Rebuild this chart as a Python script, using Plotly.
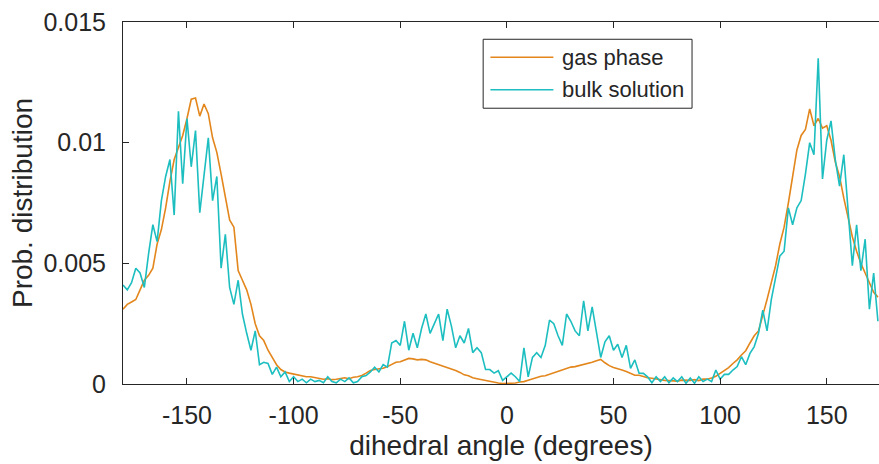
import plotly.graph_objects as go

# bin centres (degrees), 2-degree bins
angles = list(range(-180, 176, 2))

gas_phase = [
    0.0031, 0.0033, 0.0034, 0.0035, 0.0039, 0.0043, 0.0045, 0.0048, 0.0058, 0.0064,
    0.0073, 0.0084, 0.0093, 0.0098, 0.0103, 0.0110, 0.0118, 0.01185, 0.0111, 0.0116,
    0.0112, 0.0102, 0.0096, 0.0087, 0.0078, 0.0068, 0.0065, 0.0047, 0.0043, 0.0039,
    0.0033, 0.0025, 0.0020, 0.0018, 0.0014, 0.0011, 0.0008, 0.0006, 0.0005, 0.00045,
    0.00041, 0.00038, 0.00033, 0.0003, 0.0003, 0.00026, 0.00022, 0.0002, 0.00022, 0.00018,
    0.0002, 0.00024, 0.00026, 0.00022, 0.00028, 0.0003, 0.00035, 0.00045, 0.00056, 0.0006,
    0.00062, 0.00065, 0.00072, 0.0008, 0.0009, 0.00092, 0.001, 0.00106, 0.00104, 0.001,
    0.00102, 0.001, 0.00092, 0.00086, 0.00082, 0.00074, 0.0007, 0.00062, 0.00056, 0.00048,
    0.00038, 0.00034, 0.00026, 0.00022, 0.00018, 0.00014, 0.0001, 0.00005, 0.00004, 0.00002,
    0.00002, 0.00001, 0.00004, 0.00008, 0.0001, 0.00016, 0.00022, 0.00028, 0.00032, 0.00034,
    0.0004, 0.00044, 0.0005, 0.00058, 0.00064, 0.0007, 0.00072, 0.00076, 0.0008, 0.00086,
    0.0009, 0.00096, 0.00102, 0.00088, 0.00076, 0.00068, 0.00064, 0.00058, 0.00052, 0.00044,
    0.00036, 0.00036, 0.0003, 0.00026, 0.00024, 0.0002, 0.00018, 0.00015, 0.00014, 0.00014,
    0.00012, 0.00016, 0.00014, 0.00015, 0.00018, 0.00014, 0.0002, 0.0002, 0.00025, 0.00032,
    0.00044, 0.00055, 0.00068, 0.00085, 0.001, 0.0012, 0.00138, 0.0017, 0.002, 0.0022,
    0.0028, 0.0035, 0.0042, 0.0049, 0.0058, 0.0065, 0.0075, 0.0087, 0.0097, 0.0103,
    0.01055, 0.0114, 0.0107, 0.011, 0.0106, 0.0107, 0.0101, 0.0092, 0.0086, 0.0077,
    0.0069, 0.0061, 0.0055, 0.005, 0.0046, 0.0042, 0.0038, 0.0036,
]

bulk_solution = [
    0.0041, 0.0039, 0.0042, 0.0048, 0.0046, 0.004, 0.0054, 0.0066, 0.0059, 0.0076,
    0.0086, 0.0093, 0.007, 0.0113, 0.0083, 0.011, 0.009, 0.0105, 0.0071, 0.0087,
    0.0102, 0.0076, 0.0086, 0.0048, 0.0062, 0.004, 0.0033, 0.0043, 0.0029, 0.0021,
    0.0014, 0.0022, 0.0008, 0.0009, 0.00085, 0.0004, 0.0007, 0.0003, 0.0005, 0.0001,
    0.0003, 0.0001, 0.0002, 0.00005, 0.0002, 0.0001, 0.00015, 0.00005, 0.0003, 0.0001,
    0.00005, 0.0002, 0.0001, 0.00025, 0.00005, 0.0001, 0.0003, 0.00035, 0.0005, 0.0007,
    0.0005, 0.0008, 0.0007, 0.0017, 0.0018, 0.0016, 0.0026, 0.0014, 0.0021, 0.0015,
    0.0023, 0.0029, 0.0021, 0.0025, 0.0029, 0.0018, 0.0031, 0.0024, 0.0015, 0.002,
    0.0017, 0.0023, 0.0013, 0.0015, 0.0013, 0.0006, 0.0006, 0.00045, 0.00055, 0.00015,
    0.0003, 0.00045, 0.0003, 0.0001, 0.0015, 0.0003, 0.0011, 0.0013, 0.0011, 0.0016,
    0.00265, 0.0025, 0.002, 0.0016, 0.0029, 0.0026, 0.0022, 0.002, 0.00345, 0.0022,
    0.0032, 0.0021, 0.0011, 0.00175, 0.002, 0.0014, 0.00165, 0.0011, 0.0016, 0.00065,
    0.001, 0.00045, 0.00044, 0.0003, 0.00005, 0.0003, 0.0001, 0.0003, 0.00005, 0.00025,
    0.0001, 0.0003, 0.00003, 0.00025, 0.00003, 0.0003, 0.0001, 0.0002, 0.0001, 0.00058,
    0.0002, 0.0004, 0.0004, 0.00058, 0.00072, 0.00113, 0.0008, 0.00127, 0.00155, 0.0021,
    0.00306, 0.0022, 0.0035, 0.0044, 0.0053, 0.0055, 0.0073, 0.0066, 0.0073, 0.0076,
    0.0087, 0.01, 0.0095, 0.0135, 0.0085, 0.0101, 0.0109, 0.0093, 0.0082, 0.0095,
    0.0071, 0.0049, 0.0066, 0.0047, 0.006, 0.0031, 0.0046, 0.0026,
]

series_names = ["gas phase", "bulk solution"]
x_tick_vals = [-150, -100, -50, 0, 50, 100, 150]
x_tick_text = ["-150", "-100", "-50", "0", "50", "100", "150"]
y_tick_vals = [0, 0.005, 0.01, 0.015]
y_tick_text = ["0", "0.005", "0.01", "0.015"]

ORANGE = "#E3861C"
CYAN = "#1DBEC0"
AX = "#262626"
FONT = "Liberation Sans, Arial, Helvetica, sans-serif"

fig = go.Figure()
fig.add_trace(go.Scatter(x=angles, y=gas_phase, mode="lines", name=series_names[0],
                         line=dict(color=ORANGE, width=1.6), showlegend=False))
fig.add_trace(go.Scatter(x=angles, y=bulk_solution, mode="lines", name=series_names[1],
                         line=dict(color=CYAN, width=1.6), showlegend=False))

fig.update_layout(
    width=879, height=464,
    margin=dict(l=123, r=0, t=22, b=80, autoexpand=False),
    paper_bgcolor="white", plot_bgcolor="white",
    font=dict(family=FONT, color=AX),
    xaxis=dict(
        range=[-180, 174.5], tickvals=x_tick_vals, ticktext=x_tick_text,
        ticks="inside", ticklen=6, tickcolor=AX, tickwidth=1,
        showline=True, linecolor=AX, linewidth=1, mirror="ticks",
        showgrid=False, zeroline=False, automargin=False,
        tickfont=dict(size=25, color=AX), ticklabelstandoff=9,
        title=dict(text="dihedral angle (degrees)", font=dict(size=28, color=AX), standoff=7),
    ),
    yaxis=dict(
        range=[0, 0.015], tickvals=y_tick_vals, ticktext=y_tick_text,
        ticks="inside", ticklen=6, tickcolor=AX, tickwidth=1,
        showline=True, linecolor=AX, linewidth=1, mirror=False,
        showgrid=False, zeroline=False, automargin=False,
        tickfont=dict(size=25, color=AX), ticklabelstandoff=11,
        title=dict(text="Prob. distribution", font=dict(size=28, color=AX), standoff=2),
    ),
)

# legend box (drawn manually to match the original layout)
fig.add_shape(type="rect", xref="paper", yref="paper",
              x0=0.4764, x1=0.7527, y0=0.7618, y1=0.9523,
              line=dict(color=AX, width=1), fillcolor="white", layer="above")
for name, col, yy in [(series_names[0], ORANGE, 0.9026), (series_names[1], CYAN, 0.8129)]:
    fig.add_shape(type="line", xref="paper", yref="paper",
                  x0=0.4860, x1=0.5693, y0=yy, y1=yy,
                  line=dict(color=col, width=1.6), layer="above")
    fig.add_annotation(xref="paper", yref="paper", x=0.5781, y=yy, text=name,
                       showarrow=False, xanchor="left", yanchor="middle",
                       font=dict(size=22, color=AX, family=FONT))

fig.write_html("out.html",
               config={"displayModeBar": False},
               post_script="document.body.style.margin='0';document.body.style.overflow='hidden';")
